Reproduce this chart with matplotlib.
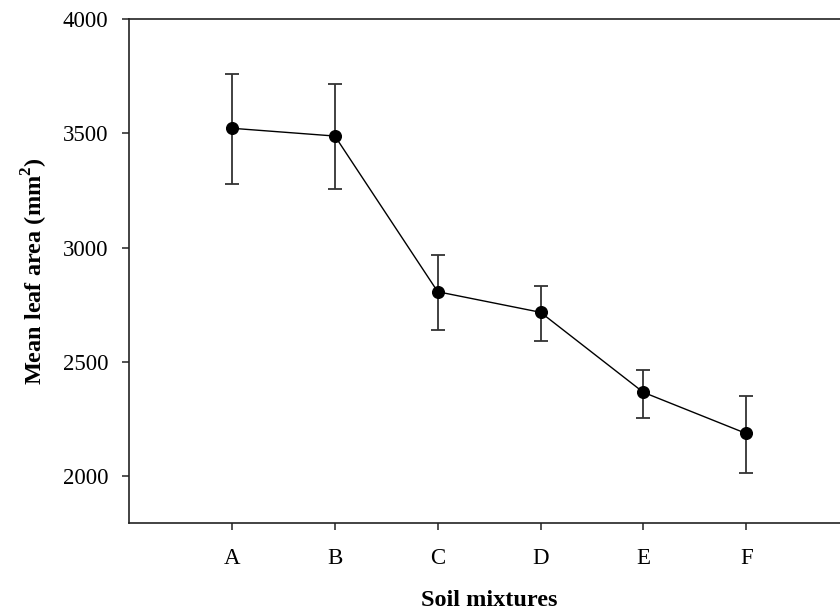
import matplotlib
matplotlib.use("Agg")
import matplotlib.pyplot as plt

# Mean leaf area per soil mixture, with upper/lower error bar ends
mixtures = ['A', 'B', 'C', 'D', 'E', 'F']
mean_area = [3522, 3488, 2807, 2717, 2367, 2187]
err_upper = [3759, 3716, 2968, 2833, 2466, 2352]
err_lower = [3277, 3256, 2638, 2590, 2256, 2012]

plt.rcParams['font.family'] = ['Liberation Serif', 'DejaVu Serif']
plt.rcParams['mathtext.fontset'] = 'custom'
plt.rcParams['mathtext.rm'] = 'Liberation Serif'
plt.rcParams['mathtext.bf'] = 'Liberation Serif:bold'

x = list(range(1, len(mixtures) + 1))
yerr = [[m - lo for m, lo in zip(mean_area, err_lower)],
        [hi - m for m, hi in zip(mean_area, err_upper)]]

fig = plt.figure(figsize=(8.4, 6.13), dpi=100)
# axes runs past the right edge of the figure, as in the original
ax = fig.add_axes([0.1539, 0.1463, 0.8568, 0.8227])

ax.errorbar(x, mean_area, yerr=yerr, fmt='none', ecolor='#333333',
            elinewidth=1.3, capsize=5, capthick=1.3, zorder=2)
ax.plot(x, mean_area, color='black', linewidth=1.0, marker='o',
        markersize=8.4, markerfacecolor='black', markeredgecolor='black', zorder=3)

ax.set_xlim(0, 7)
ax.set_ylim(1794, 4000)
ax.set_xticks(x)
ax.set_xticklabels(mixtures)
ax.set_yticks([2000, 2500, 3000, 3500, 4000])

for side in ['left', 'bottom', 'top', 'right']:
    ax.spines[side].set_linewidth(1.2)
    ax.spines[side].set_color('#222222')

ax.tick_params(axis='both', direction='out', length=5, width=1.2,
               color='#333333', labelsize=16.5)
ax.tick_params(axis='y', pad=10)
ax.tick_params(axis='x', pad=13)
ax.tick_params(axis='both', which='both', top=False, right=False)

ax.set_xlabel('Soil mixtures', fontsize=17.5, fontweight='bold', labelpad=15)
ax.set_ylabel(r'Mean leaf area (mm$^{\mathbf{2}}$)', fontsize=17.5,
              fontweight='bold', labelpad=9)

fig.savefig('out.png', dpi=100)
